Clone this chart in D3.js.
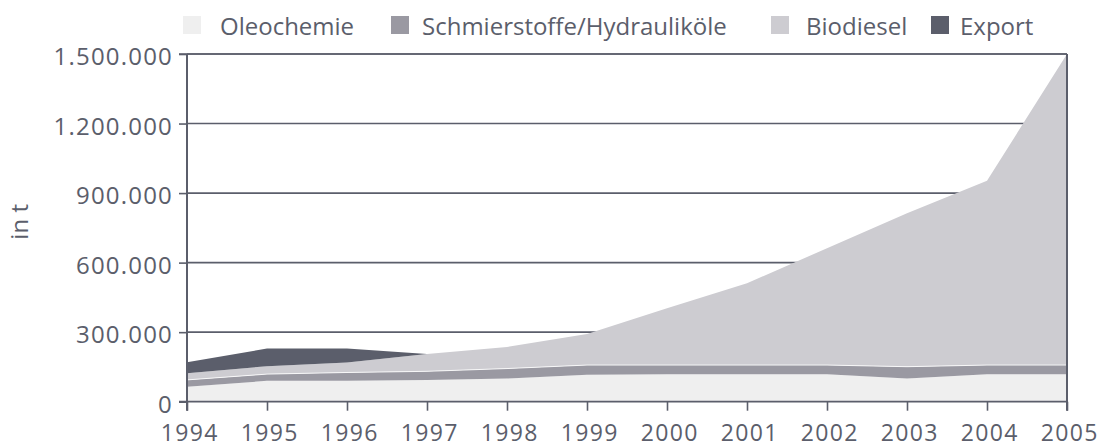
<!DOCTYPE html>
<html>
<head>
<meta charset="utf-8">
<script src="https://cdn.jsdelivr.net/npm/d3@7/dist/d3.min.js"></script>
<style>
  html, body { margin: 0; padding: 0; background: #fff; }
  svg text { font-family: "Open Sans", sans-serif; }
</style>
</head>
<body>
<svg id="chart" width="1100" height="448"></svg>
<script>
// ---- data ----
const years = [1994, 1995, 1996, 1997, 1998, 1999, 2000, 2001, 2002, 2003, 2004, 2005];
const oleochemie   = [65000, 90000, 90000, 94000, 100000, 116000, 118000, 118000, 118000, 100000, 118000, 118000];
const schmierstoffe= [29000, 29000, 36000, 37000, 43000, 42000, 40000, 40000, 40000, 51000, 40000, 40000];
const biodiesel    = [29000, 34000, 43000, 75000, 93000, 134000, 245000, 353000, 504000, 662000, 795000, 1342000];
const exportVals   = [47000, 76000, 60000, 0, 0, 0, 0, 0, 0, 0, 0, 0];
const seriesNames  = ["Oleochemie", "Schmierstoffe/Hydrauliköle", "Biodiesel", "Export"];
const seriesColors = ["#efefef", "#9a99a2", "#cdccd1", "#5b5e6b"];
const yTicks = [0, 300000, 600000, 900000, 1200000, 1500000];
const yTitle = "in t";

// ---- layout ----
const svg = d3.select("#chart");
const L = 187, R = 1067, T = 54, B = 401.7;
const ink = "#5b5e6b";
const FS = 24;

const x = d3.scaleLinear().domain([years[0], years[years.length - 1]]).range([L, R]);
const y = d3.scaleLinear().domain([0, 1500000]).range([B, T]);

const rows = years.map((yr, i) => ({
  year: yr,
  s0: oleochemie[i], s1: schmierstoffe[i], s2: biodiesel[i], s3: exportVals[i]
}));
const stack = d3.stack().keys(["s0", "s1", "s2", "s3"]);
const layers = stack(rows);

const fmt = v => d3.format(",")(v).replace(/,/g, ".");

// gridlines (behind areas)
svg.append("g").selectAll("line")
  .data(yTicks.filter(v => v > 0))
  .join("line")
  .attr("x1", L).attr("x2", R)
  .attr("y1", d => y(d)).attr("y2", d => y(d))
  .attr("stroke", ink).attr("stroke-width", 1.6);

// areas
const area = d3.area()
  .x(d => x(d.data.year))
  .y0(d => y(d[0]))
  .y1(d => y(d[1]));

svg.append("g").selectAll("path")
  .data(layers)
  .join("path")
  .attr("d", area)
  .attr("fill", (d, i) => seriesColors[i]);

// thin white separator along the top of Schmierstoffe
svg.append("path")
  .datum(layers[1])
  .attr("d", d3.line().x(d => x(d.data.year)).y(d => y(d[1])))
  .attr("fill", "none")
  .attr("stroke", "#fff")
  .attr("stroke-width", 1)
  .attr("stroke-opacity", 0.85);

// y axis
const yAxis = d3.axisLeft(y).tickValues(yTicks).tickFormat(fmt).tickSize(8).tickPadding(6);
const gy = svg.append("g").attr("transform", `translate(${L},0)`).call(yAxis);
gy.select(".domain").remove();
gy.selectAll(".tick line").attr("stroke", ink).attr("stroke-width", 1.6);
gy.selectAll(".tick text")
  .attr("fill", ink).attr("font-size", FS).attr("font-family", "Open Sans")
  .attr("letter-spacing", "1.2px")
  .attr("dy", "0.45em");

// x axis
const xAxis = d3.axisBottom(x).tickValues(years).tickFormat(d3.format("d")).tickSize(9);
const gx = svg.append("g").attr("transform", `translate(0,${B})`).call(xAxis);
gx.select(".domain").remove();
gx.selectAll(".tick line").attr("stroke", ink).attr("stroke-width", 1.6);
gx.selectAll(".tick text")
  .attr("fill", ink).attr("font-size", 23).attr("font-family", "Open Sans")
  .attr("letter-spacing", "1.4px")
  .attr("y", 39.5).attr("dy", null)
  .attr("dx", "0.1em");

// frame lines: left, right, bottom, top
svg.append("line").attr("x1", L).attr("x2", L).attr("y1", T).attr("y2", B + 9)
  .attr("stroke", ink).attr("stroke-width", 2);
svg.append("line").attr("x1", R).attr("x2", R).attr("y1", T).attr("y2", B + 9)
  .attr("stroke", ink).attr("stroke-width", 2);
svg.append("line").attr("x1", L - 8).attr("x2", R).attr("y1", B).attr("y2", B)
  .attr("stroke", ink).attr("stroke-width", 1.8);
svg.append("line").attr("x1", L - 8).attr("x2", R).attr("y1", T).attr("y2", T)
  .attr("stroke", ink).attr("stroke-width", 1.6);

// y title
svg.append("text")
  .attr("transform", `translate(28,${(T + B) / 2 - 6}) rotate(-90)`)
  .attr("text-anchor", "middle")
  .attr("fill", ink).attr("font-size", FS)
  .text(yTitle);

// legend
const legendLayout = [[183, 220], [391, 422], [771, 806], [931, 960]];
const lg = svg.append("g");
seriesNames.forEach((name, i) => {
  const [sx, tx] = legendLayout[i];
  lg.append("rect").attr("x", sx).attr("y", 16).attr("width", 18).attr("height", 18)
    .attr("fill", seriesColors[i]);
  lg.append("text").attr("x", tx).attr("y", 34.5)
    .attr("fill", ink).attr("font-size", FS).text(name);
});
</script>
</body>
</html>
